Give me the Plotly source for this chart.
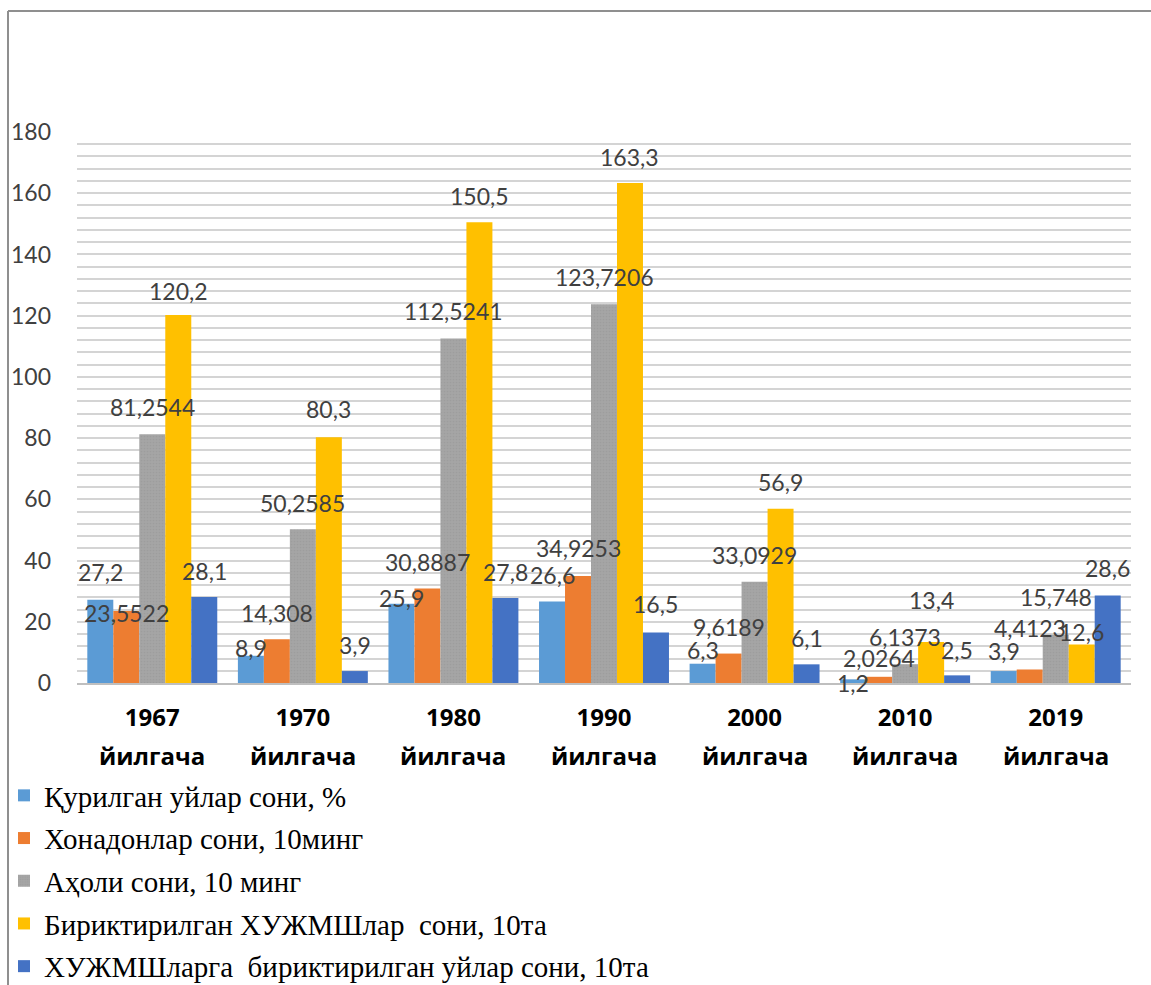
import plotly.graph_objects as go

# Categories (periods)
years = ["1967", "1970", "1980", "1990", "2000", "2010", "2019"]
period_word = "йилгача"

# Series names
series_names = [
    "Қурилган уйлар сони, %",
    "Хонадонлар сони, 10минг",
    "Аҳоли сони, 10 минг",
    "Бириктирилган ХУЖМШлар  сони, 10та",
    "ХУЖМШларга  бириктирилган уйлар сони, 10та",
]

# Series values
built_houses_pct = [27.2, 8.9, 25.9, 26.6, 6.3, 1.2, 3.9]
households_10k = [23.5522, 14.308, 30.8887, 34.9253, 9.6189, 2.0264, 4.4123]
population_10k = [81.2544, 50.2585, 112.5241, 123.7206, 33.0929, 6.1373, 15.748]
associations_10 = [120.2, 80.3, 150.5, 163.3, 56.9, 13.4, 12.6]
assoc_houses_10 = [28.1, 3.9, 27.8, 16.5, 6.1, 2.5, 28.6]

# Axis ticks
y_ticks = [0, 20, 40, 60, 80, 100, 120, 140, 160, 180]

all_series = [built_houses_pct, households_10k, population_10k,
              associations_10, assoc_houses_10]
colors = ["#5B9BD5", "#ED7D31", "#A5A5A5", "#FFC000", "#4472C4"]

# Vertical nudge (px) of each value label above its bar top
label_lift = [
    [28, 8, 6, 27, 14, -4, 20],
    [-2, 26, 26, 28, 27, 19, 41],
    [27, 26, 28, 27, 27, 27, 38],
    [24, 28, 26, 26, 27, 42, 12],
    [26, 26, 26, 28, 26, 25, 27],
]

W, H = 1151, 985
M_L, M_R, M_T, M_B = 77, 20, 132, 302
plot_w = W - M_L - M_R
plot_h = H - M_T - M_B

bar_w = 0.1726
n_series = len(all_series)
x_idx = list(range(len(years)))

fig = go.Figure()
annotations = []

for k, (name, vals, col) in enumerate(zip(series_names, all_series, colors)):
    off = (k - n_series / 2) * bar_w
    marker = dict(color=col, line=dict(width=0))
    if k == 2:
        marker["pattern"] = dict(shape=".", bgcolor=col, fgcolor="#969696",
                                 size=3, solidity=0.25)
    fig.add_trace(go.Bar(
        x=x_idx, y=vals, name=name, width=bar_w, offset=off,
        marker=marker, legendgroup=f"g{k}",
    ))
    for i, v in enumerate(vals):
        annotations.append(dict(
            x=i + off + bar_w / 2, y=v, xref="x", yref="y",
            text=str(v).replace(".", ","), showarrow=False,
            yanchor="middle", xanchor="center", yshift=label_lift[k][i],
            font=dict(family="Lato", size=23, color="#404040"),
        ))

# second line of each category label
for i in x_idx:
    annotations.append(dict(
        x=i, y=0, xref="x", yref="y", text=f"<b>{period_word}</b>",
        showarrow=False, yanchor="middle", xanchor="center", yshift=-72,
        font=dict(family="Open Sans", size=24, color="#000000"),
    ))

# outer frame (top and left edges)
def px_x(px):
    return (px - M_L) / plot_w

def px_y(py):
    return (H - M_B - py) / plot_h

shapes = [
    dict(type="line", xref="paper", yref="paper",
         x0=px_x(8), x1=px_x(1160), y0=px_y(11), y1=px_y(11),
         line=dict(color="#8F8F8F", width=2)),
    dict(type="line", xref="paper", yref="paper",
         x0=px_x(8), x1=px_x(8), y0=px_y(11), y1=px_y(1000),
         line=dict(color="#8F8F8F", width=2)),
]

fig.update_layout(
    width=W, height=H,
    margin=dict(l=M_L, r=M_R, t=M_T, b=M_B, autoexpand=False),
    paper_bgcolor="white", plot_bgcolor="white",
    barmode="group",
    showlegend=True,
    legend=dict(
        xref="container", yref="container",
        x=4 / W, y=1 - 770 / H, xanchor="left", yanchor="top",
        orientation="v", tracegroupgap=2,
        font=dict(family="Liberation Serif", size=29, color="#000000"),
        bgcolor="rgba(0,0,0,0)",
    ),
    xaxis=dict(
        range=[-0.5, len(years) - 0.5],
        tickmode="array", tickvals=x_idx,
        ticktext=[f"<b>{y}</b>" for y in years],
        tickfont=dict(family="Open Sans", size=24, color="#000000"),
        showgrid=False, zeroline=False,
        showline=True, linecolor="#BFBFBF", linewidth=1.5,
        ticks="", ticklabelstandoff=12,
    ),
    yaxis=dict(
        range=[0, 180], tickmode="array", tickvals=y_ticks,
        tickfont=dict(family="Lato", size=23, color="#404040"),
        showgrid=True, gridcolor="#D4D4D4", gridwidth=2,
        minor=dict(dtick=4, showgrid=True, gridcolor="#D4D4D4", gridwidth=2),
        zeroline=False, showline=False, ticks="", ticklabelstandoff=25,
    ),
    annotations=annotations,
    shapes=shapes,
)

fig.write_html("out.html")
